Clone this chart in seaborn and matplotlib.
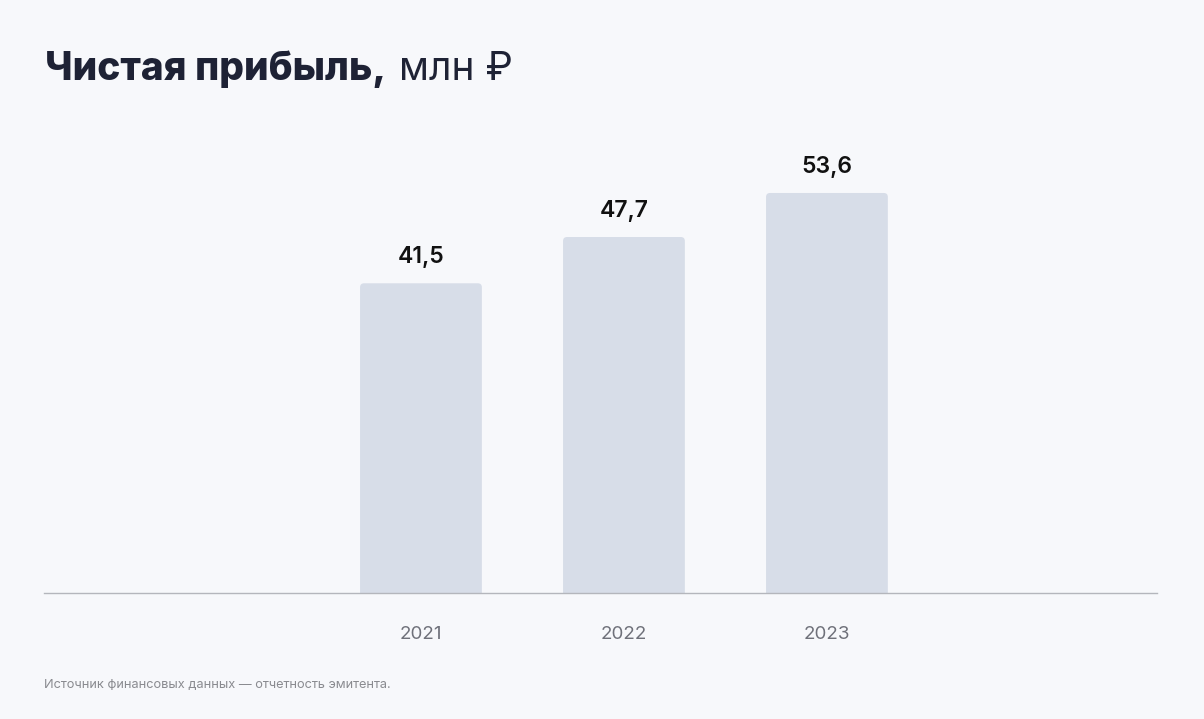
"""Net profit bar chart, 2021-2023 (million rubles)."""
import matplotlib

matplotlib.use("Agg")
import matplotlib.pyplot as plt
import pandas as pd
import seaborn as sns
from matplotlib.patches import FancyBboxPatch

years = ["2021", "2022", "2023"]
net_profit = [41.5, 47.7, 53.6]
value_labels = ["41,5", "47,7", "53,6"]

title_main = "Чистая прибыль,"
title_unit = "млн ₽"
footnote = "Источник финансовых данных — отчетность эмитента."

BG = "#F7F8FB"
BAR = "#D7DDE8"
FONTS = ["Inter", "Noto Sans", "DejaVu Sans"]

sns.set_theme(style="white")
plt.rcParams["font.family"] = FONTS

df = pd.DataFrame({"year": years, "value": net_profit})

fig = plt.figure(figsize=(12.04, 7.19), dpi=100, facecolor=BG)
ax = fig.add_axes([44 / 1204, 126 / 719, 1113 / 1204, 443 / 719])
ax.set_facecolor(BG)

sns.barplot(data=df, x="year", y="value", color=BAR, width=0.6, saturation=1, ax=ax)

ax.set_xlim(-1.857, 3.626)
ax.set_ylim(0, 59.36)

# swap plain rectangles for ones with softly rounded tops
fig.canvas.draw()
px_x = 203.0
px_y = 443 / 59.36
for bar in list(ax.patches):
    x, w, h = bar.get_x(), bar.get_width(), bar.get_height()
    bar.set_visible(False)
    rounded = FancyBboxPatch(
        (x, -2), w, h + 2,
        boxstyle=f"round,pad=0,rounding_size={4 / px_x}",
        mutation_aspect=px_x / px_y,
        facecolor=BAR, edgecolor="none", clip_on=True,
    )
    ax.add_patch(rounded)

for i, (v, lbl) in enumerate(zip(net_profit, value_labels)):
    ax.annotate(lbl, (i, v), xytext=(0, 19), textcoords="offset points",
                ha="center", va="center", fontsize=16.5, fontweight="semibold",
                color="#111111")

sns.despine(ax=ax, left=True, top=True, right=True)
ax.spines["bottom"].set_color("#B4B6BC")
ax.spines["bottom"].set_linewidth(1)
ax.set_yticks([])
ax.set_xlabel("")
ax.set_ylabel("")
ax.tick_params(axis="x", length=0, pad=24, labelsize=13.5, labelcolor="#6F717A")

t1 = fig.text(45 / 1204, 1 - 80 / 719, title_main, fontsize=28, fontweight="heavy",
              color="#1E2235", ha="left", va="baseline")
fig.canvas.draw()
bb = t1.get_window_extent()
fig.text(bb.x1 / 1204 + 13 / 1204, 1 - 80 / 719, title_unit, fontsize=28,
         fontweight="normal", color="#1E2235", ha="left", va="baseline")

fig.text(44 / 1204, 1 - 688 / 719, footnote, fontsize=9.2, color="#8A8B90",
         ha="left", va="baseline")

fig.savefig("out.png", dpi=100, facecolor=BG)
